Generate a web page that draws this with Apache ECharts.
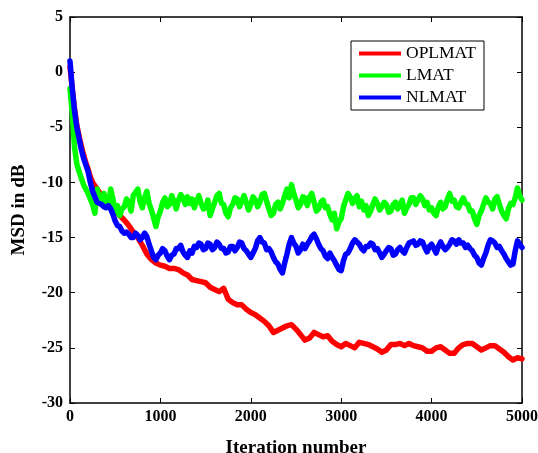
<!DOCTYPE html>
<html>
<head>
<meta charset="utf-8">
<script src="https://cdn.jsdelivr.net/npm/echarts@6/dist/echarts.min.js"></script>
<style>
  html, body { margin: 0; padding: 0; background: #fff; }
  #chart { width: 538px; height: 453px; }
</style>
</head>
<body>
<div id="chart"></div>
<script>
// Sampling grids (iteration index)
const fineStep = 25;
const fineCount = 201; // 0 .. 5000
const redIterations = [0, 25, 50, 75, 100, 125, 150, 175, 200, 225, 250, 275, 300,
  350, 400, 450, 500, 550, 600, 650, 700, 750, 800, 850, 900, 950, 1000,
  1050, 1100, 1150, 1200, 1250, 1300, 1350, 1400, 1450, 1500, 1550, 1600, 1650, 1700,
  1750, 1800, 1850, 1900, 1950, 2000, 2050, 2100, 2150, 2200, 2250, 2300, 2350, 2400,
  2450, 2500, 2550, 2600, 2650, 2700, 2750, 2800, 2850, 2900, 2950, 3000, 3050, 3100,
  3150, 3200, 3250, 3300, 3350, 3400, 3450, 3500, 3550, 3600, 3650, 3700, 3750, 3800,
  3850, 3900, 3950, 4000, 4050, 4100, 4150, 4200, 4250, 4300, 4350, 4400, 4450, 4500,
  4550, 4600, 4650, 4700, 4750, 4800, 4850, 4900, 4950, 5000];

// MSD (dB) learning curves
const oplmat = [0.5, -1.5, -3.3, -4.8, -5.8, -6.7, -7.5, -8.2, -8.8, -9.5, -10.0, -10.3, -10.6,
  -11.2, -11.7, -12.1, -12.6, -13.0, -13.4, -13.9, -14.5, -15.0, -15.7, -16.5, -17.0, -17.3, -17.5,
  -17.6, -17.8, -17.8, -17.9, -18.2, -18.4, -18.8, -18.9, -19.0, -19.1, -19.5, -19.7, -19.9, -19.6,
  -20.6, -20.9, -21.1, -21.1, -21.5, -21.8, -22.0, -22.3, -22.6, -23.0, -23.6, -23.4, -23.2, -23.0,
  -22.9, -23.3, -23.8, -24.3, -24.1, -23.6, -23.8, -24.0, -23.9, -24.4, -24.7, -24.9, -24.6, -24.8,
  -25.0, -24.5, -24.6, -24.7, -24.9, -25.1, -25.4, -25.2, -24.7, -24.7, -24.6, -24.8, -24.6, -24.8,
  -24.9, -25.0, -25.3, -25.3, -25.0, -24.9, -25.2, -25.5, -25.5, -25.0, -24.7, -24.6, -24.6, -24.9,
  -25.2, -25.0, -24.8, -24.8, -25.1, -25.4, -25.8, -26.1, -25.9, -26.0];

// one row per 250 iterations, sampled every 25
const lmat = [
  -1.5, -3.8, -6.8, -8.3, -9.0, -9.6, -10.2, -10.6, -11.0, -11.5,
  -12.0, -12.8, -10.6, -11.4, -12.0, -11.0, -11.6, -12.3, -10.6, -11.5,
  -12.8, -12.1, -13.0, -12.4, -12.2, -11.5, -11.8, -12.6, -11.2, -10.9,
  -10.6, -11.7, -12.3, -11.4, -10.8, -11.9, -12.5, -13.2, -14.0, -13.1,
  -12.6, -11.8, -11.4, -12.2, -12.0, -11.2, -11.7, -12.4, -11.6, -11.1,
  -11.4, -12.0, -11.3, -11.9, -11.5, -12.3, -11.7, -11.2, -11.9, -12.4,
  -12.3, -11.6, -13.0, -12.4, -11.8, -11.2, -11.0, -11.9, -12.0, -12.8,
  -13.1, -12.3, -12.0, -11.4, -11.5, -12.2, -11.7, -11.2, -11.8, -12.5,
  -12.0, -11.3, -11.6, -12.2, -11.8, -11.1, -11.0, -11.7, -12.4, -13.0,
  -12.8, -12.0, -11.8, -12.4, -11.9, -11.2, -10.6, -11.4, -10.2, -11.0,
  -11.6, -12.3, -12.0, -11.3, -11.4, -12.1, -11.3, -11.0, -11.8, -12.6,
  -12.4, -11.8, -11.6, -12.3, -12.2, -12.9, -13.4, -12.8, -14.2, -13.6,
  -13.3, -12.2, -11.6, -11.0, -11.3, -11.9, -11.5, -11.2, -12.2, -11.7,
  -12.5, -12.1, -13.0, -12.6, -12.0, -11.5, -11.9, -12.5, -12.2, -11.8,
  -12.0, -12.7, -12.6, -12.0, -11.8, -12.4, -12.0, -11.6, -12.8, -12.3,
  -12.0, -11.4, -11.4, -12.0, -11.6, -11.2, -11.5, -12.1, -11.8, -12.5,
  -12.3, -12.8, -13.0, -12.2, -11.8, -12.4, -12.2, -11.5, -11.0, -11.7,
  -11.6, -12.2, -12.3, -11.8, -11.4, -11.9, -12.0, -12.6, -12.6, -13.3,
  -13.8, -13.0, -12.6, -12.0, -11.4, -11.8, -11.9, -12.4, -11.5, -11.3,
  -12.0, -12.6, -13.0, -13.3, -12.4, -11.9, -12.0, -11.4, -10.5, -11.2,
  -11.6];

const nlmat = [
  1.0, -1.5, -3.5, -5.0, -6.0, -7.0, -7.8, -8.4, -9.0, -10.0,
  -10.8, -11.3, -11.8, -11.9, -12.0, -12.2, -12.3, -12.1, -12.4, -12.9,
  -13.5, -13.9, -14.0, -14.4, -14.6, -14.5, -14.7, -15.0, -15.0, -14.6,
  -14.8, -15.2, -15.0, -14.6, -14.9, -15.6, -16.2, -16.8, -17.0, -16.6,
  -16.4, -16.0, -16.2, -16.7, -17.0, -16.6, -16.5, -16.0, -16.0, -15.7,
  -16.3, -16.6, -16.8, -16.2, -16.4, -15.8, -15.9, -15.5, -15.6, -16.1,
  -16.0, -15.5, -15.6, -16.1, -15.9, -15.4, -15.6, -16.0, -16.0, -16.4,
  -16.3, -15.8, -15.8, -16.2, -15.9, -15.4, -15.5, -16.0, -16.2, -16.5,
  -16.8, -16.4, -16.0, -15.3, -15.0, -15.4, -15.5, -16.1, -16.0, -16.3,
  -16.8, -17.2, -17.4, -17.9, -18.2, -17.3, -16.5, -15.6, -15.0, -15.5,
  -15.8, -16.4, -16.1, -15.6, -16.0, -15.6, -15.3, -14.9, -14.7, -15.1,
  -15.6, -16.0, -16.2, -16.7, -16.9, -16.4, -16.8, -17.1, -17.5, -17.9,
  -18.0, -17.1, -16.5, -16.4, -16.0, -15.5, -15.2, -15.4, -15.6, -16.0,
  -16.2, -15.8, -15.8, -15.5, -15.6, -16.1, -16.0, -16.4, -16.8, -16.5,
  -16.2, -15.9, -16.0, -16.6, -16.5, -16.1, -15.9, -16.2, -16.4, -15.9,
  -15.5, -15.4, -15.3, -15.7, -15.6, -15.3, -15.4, -15.9, -16.3, -15.8,
  -15.6, -16.0, -16.4, -15.8, -15.4, -15.8, -16.1, -15.9, -15.6, -15.2,
  -15.3, -15.6, -15.2, -15.5, -15.5, -15.9, -15.7, -16.0, -16.2, -16.6,
  -16.8, -17.3, -17.5, -16.9, -16.4, -15.7, -15.2, -15.3, -15.5, -15.9,
  -15.8, -16.2, -16.5, -16.9, -17.2, -17.5, -17.4, -16.2, -15.3, -15.6,
  -15.9];

const seriesNames = ['OPLMAT', 'LMAT', 'NLMAT'];
const seriesColors = ['#ff0000', '#00ff00', '#0000ff'];

const xTicks = { min: 0, max: 5000, interval: 1000 };
const yTicks = { min: -30, max: 5, interval: 5 };

const font = '"Liberation Serif", "Times New Roman", serif';

const fineIterations = [];
for (let i = 0; i < fineCount; i++) fineIterations.push(i * fineStep);

function pairs(xs, values) {
  return xs.map((it, i) => [it, values[i]]);
}

const seriesData = [
  pairs(redIterations, oplmat),
  pairs(fineIterations, lmat),
  pairs(fineIterations, nlmat)
];

const axisLineStyle = { show: true, onZero: false, lineStyle: { color: '#000', width: 1.5 } };
const tickStyle = { show: true, inside: true, length: 5, lineStyle: { color: '#000', width: 1 } };
const tickLabel = { fontFamily: font, fontSize: 16, fontWeight: 'bold', color: '#000', formatter: v => String(v) };

const chart = echarts.init(document.getElementById('chart'), null, { renderer: 'canvas' });
chart.setOption({
  animation: false,
  backgroundColor: '#fff',
  grid: { left: 70, right: 16, top: 17, bottom: 50, containLabel: false, outerBoundsMode: 'none' },
  legend: {
    data: seriesNames,
    orient: 'vertical',
    left: 351,
    top: 41,
    padding: [2, 8, 2, 8],
    itemGap: 1,
    itemWidth: 42,
    itemHeight: 4,
    icon: 'rect',
    borderColor: '#000',
    borderWidth: 1,
    borderRadius: 0,
    backgroundColor: '#fff',
    textStyle: { fontFamily: font, fontSize: 17.5, color: '#000', lineHeight: 21 }
  },
  xAxis: [{
    type: 'value',
    min: xTicks.min, max: xTicks.max, interval: xTicks.interval,
    name: 'Iteration number',
    nameLocation: 'middle',
    nameGap: 36,
    nameTextStyle: { fontFamily: font, fontSize: 19, fontWeight: 'bold', color: '#000' },
    axisLine: axisLineStyle,
    axisTick: tickStyle,
    axisLabel: Object.assign({ margin: 6 }, tickLabel),
    splitLine: { show: false }
  }, {
    type: 'value', position: 'top',
    min: xTicks.min, max: xTicks.max, interval: xTicks.interval,
    axisLine: axisLineStyle, axisTick: tickStyle,
    axisLabel: { show: false }, splitLine: { show: false }
  }],
  yAxis: [{
    type: 'value',
    min: yTicks.min, max: yTicks.max, interval: yTicks.interval,
    name: 'MSD in dB',
    nameLocation: 'middle',
    nameGap: 41,
    nameTextStyle: { fontFamily: font, fontSize: 19, fontWeight: 'bold', color: '#000' },
    axisLine: axisLineStyle,
    axisTick: tickStyle,
    axisLabel: Object.assign({ margin: 7 }, tickLabel),
    splitLine: { show: false }
  }, {
    type: 'value', position: 'right',
    min: yTicks.min, max: yTicks.max, interval: yTicks.interval,
    axisLine: axisLineStyle, axisTick: tickStyle,
    axisLabel: { show: false }, splitLine: { show: false }
  }],
  series: seriesNames.map((name, k) => ({
    name: name,
    type: 'line',
    data: seriesData[k],
    showSymbol: false,
    symbol: 'none',
    smooth: false,
    lineStyle: { color: seriesColors[k], width: 5.5, join: 'round', cap: 'round' },
    itemStyle: { color: seriesColors[k] },
    z: 2 + k
  }))
});
</script>
</body>
</html>
